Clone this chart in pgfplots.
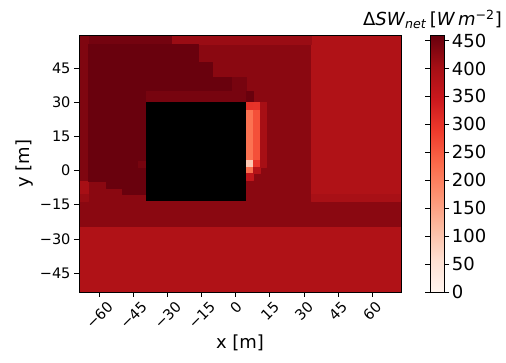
\documentclass[border=0pt]{standalone}
\usepackage{fontspec}
\setmainfont{DejaVu Sans}
\usepackage{graphicx}
\usepackage{pgfplots}
\usepgfplotslibrary{patchplots}
\pgfplotsset{compat=1.18}
\newcommand\fs{\fontsize{14.5}{17}\selectfont}
\newcommand\fl{\fontsize{18}{21}\selectfont}
\pgfplotsset{colormap={reds}{rgb255=(255,245,240) rgb255=(254,224,210) rgb255=(252,187,161) rgb255=(252,146,114) rgb255=(251,106,74) rgb255=(239,59,44) rgb255=(203,24,29) rgb255=(165,15,21) rgb255=(103,0,13)}}
\pgfplotstableread{
x y c
-69 -53.3 386
72.7 -53.3 386
72.7 -24.3 386
-69 -24.3 386
-69 -24.3 428
72.7 -24.3 428
72.7 59.5 428
-69 59.5 428
33.4 -10.4 386
72.7 -10.4 386
72.7 59.5 386
33.4 59.5 386
33.4 -13.3 398
72.7 -13.3 398
72.7 -10.4 398
33.4 -10.4 398
-28.6 55.4 413
33.4 55.4 413
33.4 59.5 413
-28.6 59.5 413
-64.8 55.4 448
-28.6 55.4 448
-28.6 59.5 448
-64.8 59.5 448
-69 -4.5 438
-64.8 -4.5 438
-64.8 59.5 438
-69 59.5 438
-69 -10.4 400
-64.8 -10.4 400
-64.8 -4.5 400
-69 -4.5 400
-69 -13.3 415
-64.8 -13.3 415
-64.8 -10.4 415
-69 -10.4 415
-64.8 47.5 458
-16.5 47.5 458
-16.5 55.4 458
-64.8 55.4 458
-64.8 40.8 458
-10.3 40.8 458
-10.3 47.5 458
-64.8 47.5 458
-64.8 35.0 458
-1.5 35.0 458
-1.5 40.8 458
-64.8 40.8 458
-1.5 35.0 445
4.4 35.0 445
4.4 40.8 445
-1.5 40.8 445
-64.8 -4.5 458
-39.3 -4.5 458
-39.3 35.0 458
-64.8 35.0 458
-39.3 30.0 445
4.4 30.0 445
4.4 35.0 445
-39.3 35.0 445
4.4 30.0 458
7.5 30.0 458
7.5 35.0 458
4.4 35.0 458
-57.0 -7.7 458
-39.3 -7.7 458
-39.3 -4.5 458
-57.0 -4.5 458
-50.1 -10.4 458
-39.3 -10.4 458
-39.3 -7.7 458
-50.1 -7.7 458
-43.0 1.3 445
-39.3 1.3 445
-39.3 4.3 445
-43.0 4.3 445
4.4 26.6 302
7.5 26.6 302
7.5 30.0 302
4.4 30.0 302
4.4 4.7 218
7.5 4.7 218
7.5 26.6 218
4.4 26.6 218
4.4 1.5 95
7.5 1.5 95
7.5 4.7 95
4.4 4.7 95
4.4 -1.1 225
7.5 -1.1 225
7.5 1.5 225
4.4 1.5 225
4.4 -4.1 360
7.5 -4.1 360
7.5 -1.1 360
4.4 -1.1 360
7.5 26.6 300
10.6 26.6 300
10.6 30.0 300
7.5 30.0 300
7.5 4.7 262
10.6 4.7 262
10.6 26.6 262
7.5 26.6 262
7.5 1.5 300
10.6 1.5 300
10.6 4.7 300
7.5 4.7 300
7.5 -1.1 380
10.6 -1.1 380
10.6 1.5 380
7.5 1.5 380
10.6 1.5 400
13.6 1.5 400
13.6 30.0 400
10.6 30.0 400
}\fieldtable
\begin{document}
\begin{tikzpicture}
\begin{axis}[
  name=main,
  scale only axis, width=322pt, height=257pt,
  xmin=-69, xmax=72.7, ymin=-53.3, ymax=59.5,
  axis on top,
  tick align=outside, tick pos=left, major tick length=5pt,
  tick style={black, line width=0.8pt},
  axis line style={line width=0.9pt},
  xtick={-60,-45,-30,-15,0,15,30,45,60},
  xticklabels={\rotatebox{45}{−60},\rotatebox{45}{−45},\rotatebox{45}{−30},\rotatebox{45}{−15},\rotatebox{45}{0},\rotatebox{45}{15},\rotatebox{45}{30},\rotatebox{45}{45},\rotatebox{45}{60}},
  ytick={-45,-30,-15,0,15,30,45},
  yticklabels={−45,−30,−15,0,15,30,45},
  ticklabel style={font=\fs},
  xlabel={x [m]}, ylabel={y [m]}, label style={font=\fl},
  xlabel style={yshift=2pt},
  colormap name=reds, point meta min=0, point meta max=460,
  colorbar,
  colorbar shift/.style={xshift=29pt},
  colorbar style={
    scale only axis, width=14pt, height=257pt,
    ytick={0,50,...,450},
    yticklabel style={font=\fl, /pgf/number format/assume math mode=true, xshift=-1pt},
    tick align=outside, major tick length=5pt,
    tick style={black, line width=0.8pt},
    axis line style={line width=0.9pt},
    title={Δ\textit{SW}\textsubscript{\textit{net}}\,[\textit{W}\,\textit{m}\textsuperscript{−2}]},
    title style={font=\fl, anchor=south, yshift=-3pt, xshift=-5pt},
  },
]
\addplot[patch, patch type=rectangle, shader=flat, point meta=\thisrow{c}] table[x=x, y=y] {\fieldtable};
\addplot[fill=black, draw=none] coordinates {(-39.3,-13.3) (4.4,-13.3) (4.4,30) (-39.3,30)};
\end{axis}
\pgfresetboundingbox
\path[use as bounding box] ([xshift=-79pt,yshift=-71pt]main.south west) rectangle ++(506pt,363pt);
\end{tikzpicture}
\end{document}
